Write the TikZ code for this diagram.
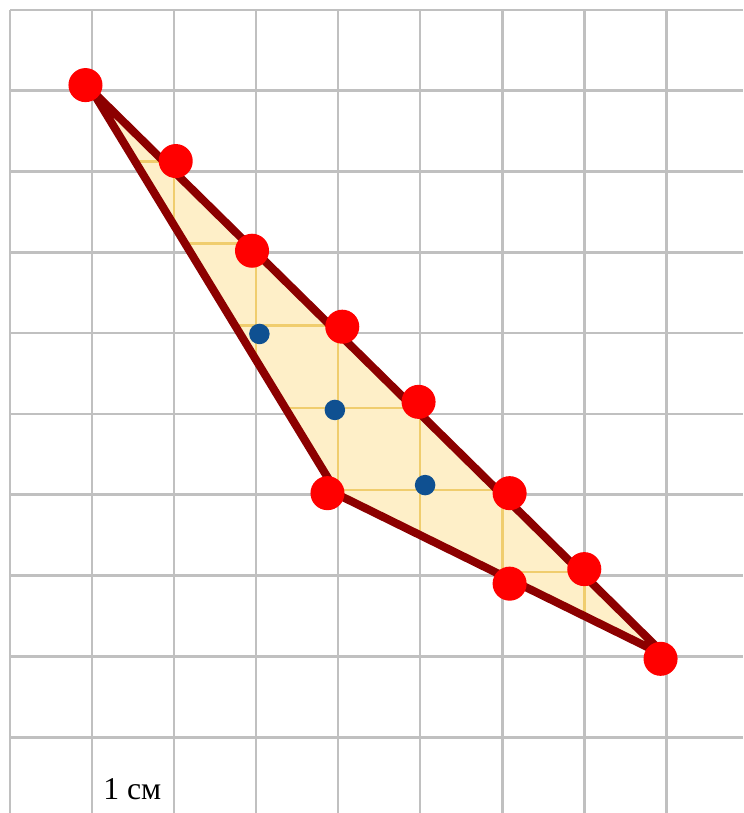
\documentclass[tikz,border=0pt]{standalone}
\usepackage{fontspec}
\setmainfont{Liberation Serif}
\usetikzlibrary{positioning}
\definecolor{gridgray}{RGB}{192,192,192}
\definecolor{gridgold}{RGB}{240,205,110}
\definecolor{areafill}{RGB}{254,239,200}
\definecolor{edgered}{RGB}{140,0,0}
\definecolor{dotblue}{RGB}{15,80,145}
\tikzset{reddot/.style={circle, fill=red, minimum size=0.415cm},
  bluedot/.style={circle, fill=dotblue, minimum size=0.25cm}}

\begin{document}
\begin{tikzpicture}[y=0.985cm, inner sep=0pt, outer sep=0pt]
\useasboundingbox (-0.122, 0.062) rectangle (8.939, 10.123);
\draw[gridgray, line width=0.9pt] (0, 10) -- (8.939, 10);
\draw[gridgray, line width=0.9pt] (0, 9) -- (8.939, 9);
\draw[gridgray, line width=0.9pt] (0, 8) -- (8.939, 8);
\draw[gridgray, line width=0.9pt] (0, 7) -- (8.939, 7);
\draw[gridgray, line width=0.9pt] (0, 6) -- (8.939, 6);
\draw[gridgray, line width=0.9pt] (0, 5) -- (8.939, 5);
\draw[gridgray, line width=0.9pt] (0, 4) -- (8.939, 4);
\draw[gridgray, line width=0.9pt] (0, 3) -- (8.939, 3);
\draw[gridgray, line width=0.9pt] (0, 2) -- (8.939, 2);
\draw[gridgray, line width=0.9pt] (0, 1) -- (8.939, 1);
\draw[gridgray, line width=0.9pt] (0, 10) -- (0, 0.062);
\draw[gridgray, line width=0.9pt] (1, 10) -- (1, 0.062);
\draw[gridgray, line width=0.9pt] (2, 10) -- (2, 0.062);
\draw[gridgray, line width=0.9pt] (3, 10) -- (3, 0.062);
\draw[gridgray, line width=0.9pt] (4, 10) -- (4, 0.062);
\draw[gridgray, line width=0.9pt] (5, 10) -- (5, 0.062);
\draw[gridgray, line width=0.9pt] (6, 10) -- (6, 0.062);
\draw[gridgray, line width=0.9pt] (7, 10) -- (7, 0.062);
\draw[gridgray, line width=0.9pt] (8, 10) -- (8, 0.062);
\coordinate (A) at (1, 9);
\coordinate (B) at (4, 4);
\coordinate (C) at (8, 2);
\fill[areafill] (A) -- (B) -- (C) -- cycle;
\begin{scope}
\clip (A) -- (B) -- (C) -- cycle;
\draw[gridgold, line width=0.9pt] (0, 2) grid (9, 9);
\end{scope}
\draw[edgered, line width=2.8pt, line join=round] (A) -- (B) -- (C) -- cycle;
\node[reddot] (r1) at (0.92, 9.07) {};
\node[reddot] (r2) at (2.02, 8.13) {};
\node[reddot] (r3) at (2.95, 7.02) {};
\node[reddot] (r4) at (4.05, 6.08) {};
\node[reddot] (r5) at (4.98, 5.15) {};
\node[reddot] (r6) at (6.09, 4.02) {};
\node[reddot] (r7) at (7.00, 3.08) {};
\node[reddot] (r8) at (7.93, 1.97) {};
\node[reddot] (r9) at (3.87, 4.02) {};
\node[reddot] (r10) at (6.09, 2.90) {};
\node[bluedot] (b1) at (3.04, 5.99) {};
\node[bluedot] (b2) at (3.96, 5.05) {};
\node[bluedot] (b3) at (5.06, 4.12) {};
\node[anchor=base, font=\fontsize{11pt}{13pt}\selectfont] (unit) at (1.49, 0.23) {1 см};
\end{tikzpicture}
\end{document}
